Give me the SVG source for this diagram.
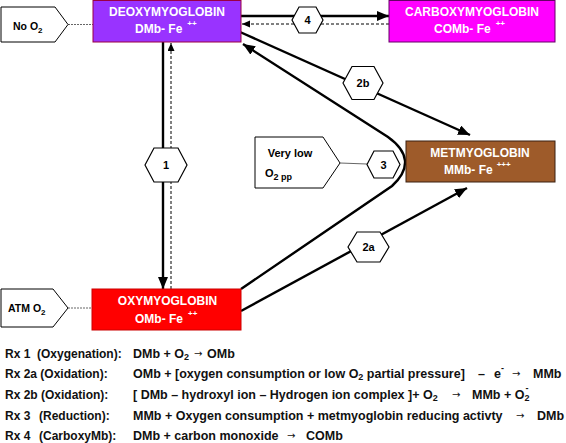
<svg xmlns="http://www.w3.org/2000/svg" width="566" height="443" viewBox="0 0 566 443">
<defs>
<style>
.t{font-family:"Liberation Sans",Arial,sans-serif;font-weight:bold}
.nt{font-family:"Liberation Sans",Arial,sans-serif;font-weight:bold;font-size:12px;fill:#fff}
.sup{font-size:8px}
.hx{fill:#fff;stroke:#000;stroke-width:1.2}
.hl{font-family:"Liberation Sans",Arial,sans-serif;font-weight:bold;font-size:11px;fill:#000;text-anchor:middle}
.pent{fill:#fff;stroke:#000;stroke-width:1}
.sol{stroke:#000;stroke-width:2.4;fill:none}
.dsh{stroke:#000;stroke-width:1;stroke-dasharray:3,2;fill:none}
.thin{stroke:#555;stroke-width:0.9;fill:none}
.lg{font-family:"Liberation Sans",Arial,sans-serif;font-weight:bold;font-size:12px;fill:#111}
.lr{font-family:"Liberation Sans",Arial,sans-serif;font-weight:bold;font-size:12.5px;fill:#111}
.ar{font-family:"DejaVu Sans",sans-serif;font-size:10px;fill:#111}
</style>
<marker id="ah" markerUnits="userSpaceOnUse" markerWidth="13" markerHeight="11" refX="12" refY="5" orient="auto"><path d="M0,0 L12,5 L0,10 z" fill="#000"/></marker>
<marker id="ahs" markerUnits="userSpaceOnUse" markerWidth="9" markerHeight="8" refX="8" refY="3.5" orient="auto"><path d="M0,0 L8,3.5 L0,7 z" fill="#000"/></marker>
</defs>
<rect width="566" height="443" fill="#fff"/>

<g id="connectors">
<line class="thin" x1="68" y1="24.5" x2="93" y2="24.5" stroke-dasharray="2,1"/>
<line class="thin" x1="68" y1="308" x2="92" y2="308" stroke-dasharray="2,1"/>
<line class="thin" x1="340" y1="163" x2="367" y2="164"/>
<line class="sol" x1="163" y1="42" x2="163" y2="289" marker-end="url(#ah)"/>
<line class="dsh" x1="171" y1="289" x2="171" y2="43" marker-end="url(#ahs)"/>
<line class="sol" x1="241" y1="16" x2="389" y2="16" marker-end="url(#ah)"/>
<line class="dsh" x1="389" y1="24" x2="242" y2="24" marker-end="url(#ahs)"/>
<line class="sol" x1="240" y1="32" x2="470" y2="135" marker-end="url(#ah)"/>
<path class="sol" d="M241,289 L392,186 Q420,160 388,137 L243,44" marker-end="url(#ah)"/>
<line class="sol" x1="241" y1="311" x2="467" y2="188" marker-end="url(#ah)"/>
</g>

<g id="no-o2">
<polygon class="pent" points="1,7 55,7 68,24.5 55,42 1,42"/>
<text class="t" x="13" y="30" font-size="10.5" fill="#000">No O<tspan font-size="8" dy="3">2</tspan></text>
</g>

<g id="atm-o2">
<polygon class="pent" points="1,289 53,289 68,308 53,327 1,327"/>
<text class="t" x="8" y="312" font-size="10.5" fill="#000">ATM O<tspan font-size="8" dy="3">2</tspan></text>
</g>

<g id="very-low">
<polygon class="pent" points="255,137 323,137 340,163 323,188 255,188"/>
<text class="t" x="290" y="157" font-size="11" fill="#000" text-anchor="middle">Very low</text>
<text class="t" x="265" y="177" font-size="11" fill="#000">O<tspan font-size="9" dy="3">2 pp</tspan></text>
</g>

<g id="deoxymyoglobin">
<rect x="93" y="0.5" width="148" height="41.5" fill="#9933FF" stroke="#990044" stroke-width="1"/>
<text class="nt" x="167" y="16" text-anchor="middle">DEOXYMYOGLOBIN</text>
<text class="nt" x="135" y="33">DMb- Fe<tspan class="sup" dx="5" dy="-7">++</tspan></text>
</g>

<g id="carboxymyoglobin">
<rect x="389" y="0.5" width="166" height="41.5" fill="#FF00FF" stroke="#660066" stroke-width="1"/>
<text class="nt" x="472" y="16" text-anchor="middle">CARBOXYMYOGLOBIN</text>
<text class="nt" x="434" y="33">COMb- Fe<tspan class="sup" dx="5" dy="-7">++</tspan></text>
</g>

<g id="metmyoglobin">
<rect x="406" y="141" width="149" height="41" fill="#9E5B2A" stroke="#3a2010" stroke-width="1"/>
<text class="nt" x="480" y="157" text-anchor="middle">METMYOGLOBIN</text>
<text class="nt" x="444" y="174">MMb- Fe<tspan class="sup" dx="4" dy="-7">+++</tspan></text>
</g>

<g id="oxymyoglobin">
<rect x="92" y="289" width="149" height="41" fill="#FF0000" stroke="#cc0000" stroke-width="1"/>
<text class="nt" x="167.5" y="305" text-anchor="middle">OXYMYOGLOBIN</text>
<text class="nt" x="135" y="323">OMb- Fe<tspan class="sup" dx="5" dy="-7">++</tspan></text>
</g>

<g id="hex-1"><polygon class="hx" points="145,165 154,148 178,148 187,165 178,182 154,182"/><text class="hl" x="166" y="169">1</text></g>
<g id="hex-4"><polygon class="hx" points="292,20 299,7 316,7 323,20 316,33 299,33"/><text class="hl" x="307.5" y="24">4</text></g>
<g id="hex-2b"><polygon class="hx" points="343,83 352,66.5 374,66.5 383,83 374,99.5 352,99.5"/><text class="hl" x="363" y="87">2b</text></g>
<g id="hex-3"><polygon class="hx" points="367,164.5 374,151 393,151 400,164.5 393,178 374,178"/><text class="hl" x="383.5" y="168.5">3</text></g>
<g id="hex-2a"><polygon class="hx" points="348,247 357,232 380,232 389,247 380,262 357,262"/><text class="hl" x="368.5" y="251">2a</text></g>

<g id="legend">
<text class="lg" x="5" y="358">Rx 1</text>
<text class="lg" x="37" y="358">(Oxygenation):</text>
<text class="lr" x="133" y="358">DMb + O<tspan font-size="9" dy="2">2</tspan></text>
<text class="ar" x="194" y="357">→</text>
<text class="lr" x="207" y="358">OMb</text>

<text class="lg" x="5" y="378">Rx 2a (Oxidation):</text>
<text class="lr" x="133" y="378">OMb + [oxygen consumption or low O<tspan font-size="9" dy="2">2</tspan><tspan dy="-2"> partial pressure]</tspan></text>
<text class="lr" x="478" y="378">–</text>
<text class="lr" x="494" y="378">e<tspan font-size="9" dy="-7">-</tspan></text>
<text class="ar" x="512" y="377">→</text>
<text class="lr" x="533" y="378">MMb</text>

<text class="lg" x="5" y="399">Rx 2b (Oxidation):</text>
<text class="lr" x="133" y="399">[ DMb – hydroxyl ion – Hydrogen ion complex ]+ O<tspan font-size="9" dy="2">2</tspan></text>
<text class="ar" x="452" y="398">→</text>
<text class="lr" x="472" y="399">MMb + O<tspan font-size="9" dy="2">2</tspan><tspan font-size="9" dx="-4" dy="-10">-</tspan></text>

<text class="lg" x="5" y="420">Rx 3</text>
<text class="lg" x="39" y="420">(Reduction):</text>
<text class="lr" x="133" y="420">MMb + Oxygen consumption + metmyoglobin reducing activty</text>
<text class="ar" x="516" y="419">→</text>
<text class="lr" x="537" y="420">DMb</text>

<text class="lg" x="5" y="440">Rx 4</text>
<text class="lg" x="39" y="440">(CarboxyMb):</text>
<text class="lr" x="133" y="440">DMb + carbon monoxide</text>
<text class="ar" x="287" y="439">→</text>
<text class="lr" x="306" y="440">COMb</text>
</g>
</svg>
